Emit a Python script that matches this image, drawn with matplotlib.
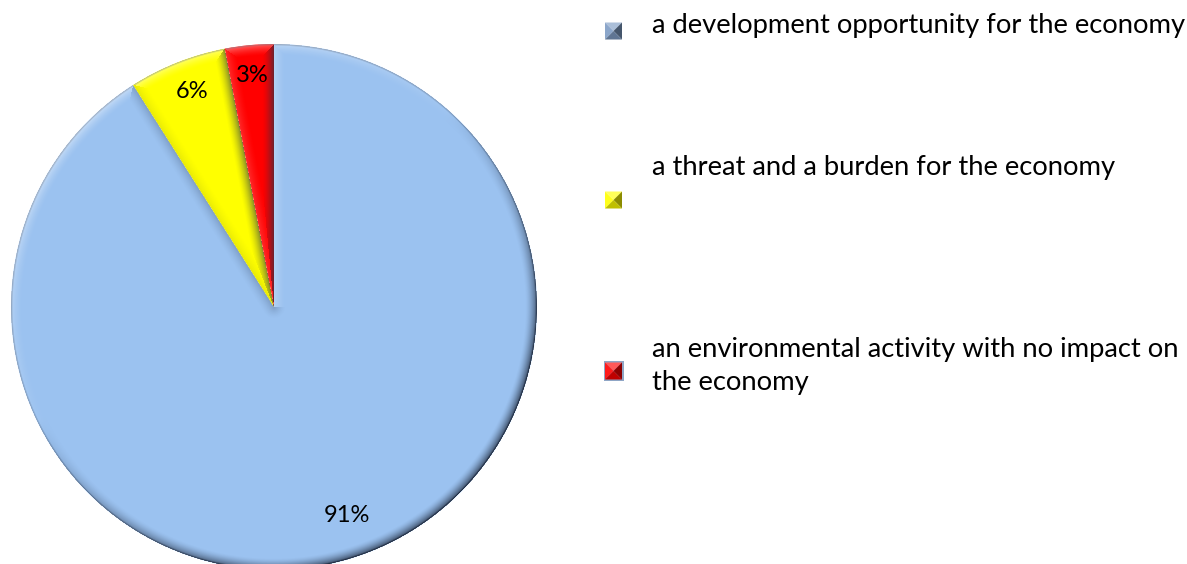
import numpy as np
import matplotlib
matplotlib.use("Agg")
import matplotlib.pyplot as plt
from matplotlib.patches import Circle, Polygon, Rectangle
from matplotlib.colors import to_rgb

# Survey answers: how the activity is perceived
categories = [
    "a development opportunity for the economy",
    "a threat and a burden for the economy",
    "an environmental activity with no impact on\nthe economy",
]
shares = [91, 6, 3]
colors = ["#9BC2F0", "#FFFF00", "#FF0000"]

plt.rcParams["font.family"] = ["Lato", "DejaVu Sans"]

W, H = 1187, 564
fig = plt.figure(figsize=(W / 100, H / 100), dpi=100)
ax = fig.add_axes([0, 0, 1, 1])

cx, cy, R = 274, 257, 263

wedges, _ = ax.pie(shares, colors=colors, startangle=90, counterclock=False,
                   center=(cx, cy), radius=R, frame=True,
                   wedgeprops=dict(linewidth=0))
ax.set_xlim(0, W)
ax.set_ylim(0, H)
ax.axis("off")

# Bevel shading computed from each wedge's geometry
yy, xx = np.mgrid[0:H, 0:W] + 0.5
px, py = xx - cx, yy - cy
r = np.hypot(px, py)
ang = np.degrees(np.arctan2(py, px))
light = np.array([-0.6, 0.8])
bevel = 12.0

dist = np.full(r.shape, np.inf)
nx = np.zeros(r.shape)
ny = np.zeros(r.shape)
for w in wedges:
    t1, t2 = w.theta1, w.theta2
    span = t2 - t1
    inside = ((ang - t1) % 360 <= span) & (r <= R)
    d_arc = R - r
    cand = [(d_arc, px / np.maximum(r, 1e-9), py / np.maximum(r, 1e-9))]
    for t, sgn in ((t1, -1), (t2, 1)):
        ux, uy = np.cos(np.radians(t)), np.sin(np.radians(t))
        if sgn < 0:
            n_x, n_y = uy, -ux
        else:
            n_x, n_y = -uy, ux
        proj = px * ux + py * uy
        dline = np.abs(px * n_x + py * n_y)
        d = np.where(proj > 0, dline, r)
        cand.append((d, np.full(r.shape, n_x), np.full(r.shape, n_y)))
    dmin = np.full(r.shape, np.inf)
    bx = np.zeros(r.shape)
    by = np.zeros(r.shape)
    for d, a, b in cand:
        sel = d < dmin
        dmin = np.where(sel, d, dmin)
        bx = np.where(sel, a, bx)
        by = np.where(sel, b, by)
    dist = np.where(inside, dmin, dist)
    nx = np.where(inside, bx, nx)
    ny = np.where(inside, by, ny)

f = np.clip(1 - dist / bevel, 0, 1) ** 1.6
s = nx * light[0] + ny * light[1]
overlay = np.zeros((H, W, 4))
dark = np.array(to_rgb("#243044"))
hi = np.array([1.0, 1.0, 1.0])
a_dark = np.clip(0.85 * f * np.clip(-s + 0.2, 0, 1), 0, 1)
a_hi = np.clip(0.5 * f * np.clip(s - 0.1, 0, 1), 0, 1)
# thin darker rim all around the outer edge
rim = np.clip(1 - (R - r) / 2.0, 0, 1) * 0.35
a_dark = np.clip(a_dark + rim * (dist == (R - r)), 0, 1)
alpha = np.clip(a_dark + a_hi, 0, 1)
rgb = (dark[None, None, :] * a_dark[..., None] + hi[None, None, :] * a_hi[..., None]) / np.maximum(a_dark + a_hi, 1e-9)[..., None]
overlay[..., :3] = np.clip(rgb, 0, 1)
overlay[..., 3] = alpha
overlay[r > R] = 0
img = ax.imshow(overlay, extent=(0, W, 0, H), origin="lower", interpolation="bilinear", zorder=3)
img.set_clip_path(Circle((cx, cy), R, transform=ax.transData))
ax.set_xlim(0, W)
ax.set_ylim(0, H)
ax.set_aspect("auto")

# Percentage labels
label_pos = [(347, 564 - 516), (192, 564 - 92), (252, 564 - 76)]
for v, (lx, ly) in zip(shares, label_pos):
    ax.text(lx, ly, f"{v}%", ha="center", va="center", fontsize=17, color="black", zorder=5)


def shade(c, k):
    c = np.array(to_rgb(c))
    if k >= 0:
        return tuple(c + (1 - c) * k)
    return tuple(c * (1 + k))


# Legend with bevelled square keys
marker_centers = [(613.5, 564 - 31), (613.5, 564 - 200), (613.5, 564 - 371)]
key_colors = ["#7E9CC4", "#FFFF00", "#FF0000"]
text_y = [564 - 25, 564 - 167, 564 - 366]
half = 8.5
for (mx, my), kc, lab, ty in zip(marker_centers, key_colors, categories, text_y):
    if kc == "#FF0000":
        ax.add_patch(Rectangle((mx - half - 1.5, my - half - 1.5), 2 * half + 3, 2 * half + 3,
                               facecolor="#8FA6C6", edgecolor="none", zorder=4))
    x0, x1, y0, y1 = mx - half, mx + half, my - half, my + half
    c = (mx, my)
    ax.add_patch(Polygon([(x0, y1), (x1, y1), c], facecolor=shade(kc, 0.35), edgecolor="none", zorder=5))
    ax.add_patch(Polygon([(x0, y0), (x0, y1), c], facecolor=shade(kc, 0.1), edgecolor="none", zorder=5))
    ax.add_patch(Polygon([(x1, y0), (x1, y1), c], facecolor=shade(kc, -0.45), edgecolor="none", zorder=5))
    ax.add_patch(Polygon([(x0, y0), (x1, y0), c], facecolor=shade(kc, -0.25), edgecolor="none", zorder=5))
    ax.text(652, ty, lab, ha="left", va="center", fontsize=19.7, color="black",
            linespacing=1.38, zorder=5)

fig.savefig("out.png", dpi=100)
